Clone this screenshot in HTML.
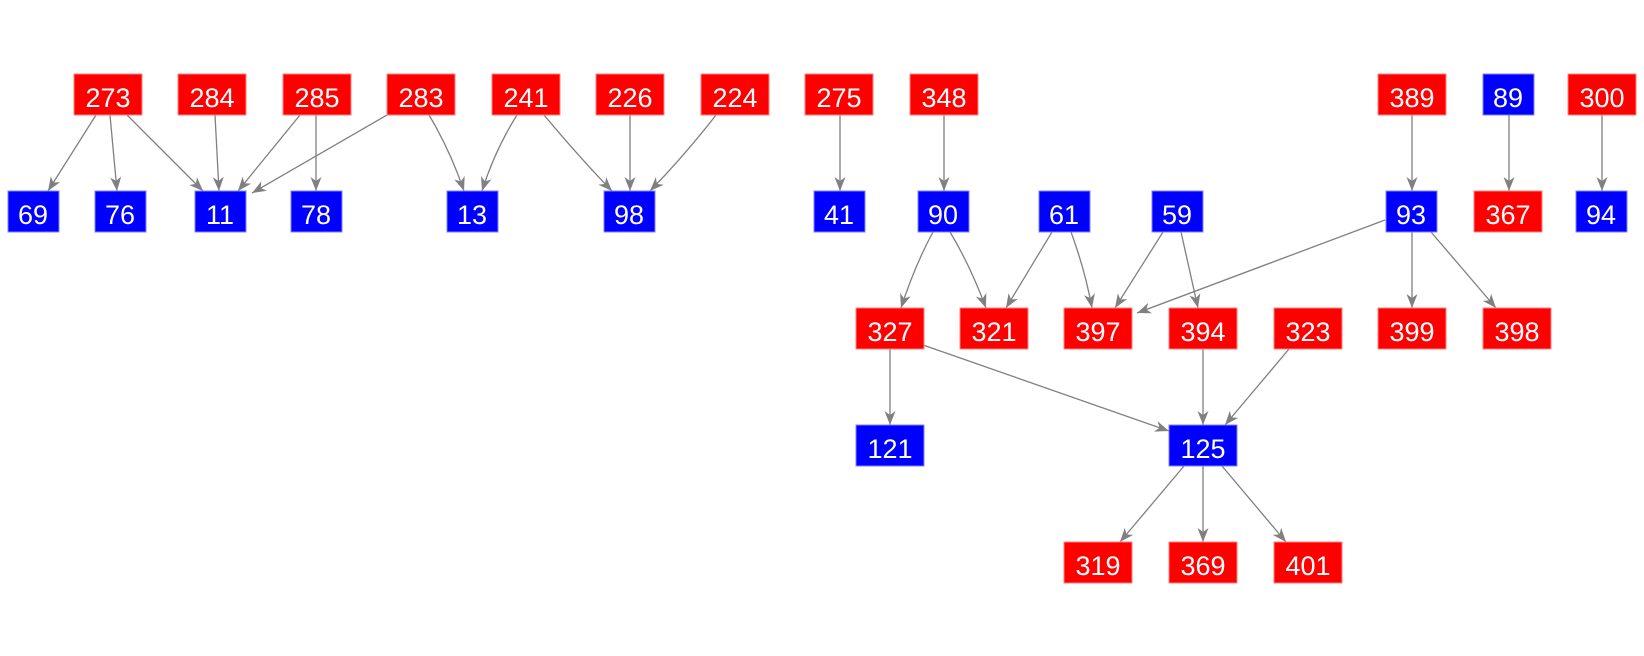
<!DOCTYPE html>
<html><head><meta charset="utf-8"><style>
html,body{margin:0;padding:0;background:#fff;}
svg{display:block;}
text{font-family:"Liberation Sans",Arial,sans-serif;font-size:27px;fill:#fff;text-anchor:middle;}
.r{fill:#ff0000;stroke:#ff8080;stroke-width:1;}
.b{fill:#0000ff;stroke:#8080ff;stroke-width:1;}
line,path.e{stroke:#808080;stroke-width:1.3;fill:none;marker-end:url(#a);}
</style></head><body>
<svg width="1644" height="656" viewBox="0 0 1644 656" xmlns="http://www.w3.org/2000/svg">
<defs><marker id="a" markerWidth="16" markerHeight="12" refX="14" refY="5.5" orient="auto" markerUnits="userSpaceOnUse">
<path d="M0,0 L14,5.5 L0,11 L4,5.5 Z" fill="#808080"/></marker></defs>
<line x1="96" y1="115" x2="48" y2="191"/>
<line x1="110" y1="115" x2="117" y2="191"/>
<line x1="127" y1="115" x2="203" y2="191"/>
<line x1="215" y1="115" x2="219" y2="191"/>
<line x1="300" y1="115" x2="238" y2="191"/>
<line x1="316" y1="115" x2="316" y2="191"/>
<line x1="387" y1="115" x2="252" y2="193"/>
<path class="e" d="M429,115 Q450,150 464,191"/>
<path class="e" d="M517,115 Q495,150 482,191"/>
<path class="e" d="M544,115 Q580,158 612,191"/>
<line x1="630" y1="115" x2="630" y2="191"/>
<path class="e" d="M716,115 Q685,155 650,191"/>
<line x1="840" y1="115" x2="840" y2="191"/>
<line x1="944" y1="115" x2="944" y2="191"/>
<line x1="1412" y1="115" x2="1412" y2="191"/>
<line x1="1509" y1="115" x2="1509" y2="191"/>
<line x1="1602" y1="115" x2="1602" y2="191"/>
<path class="e" d="M933,232 Q915,265 901,308"/>
<path class="e" d="M950,232 Q970,265 986,308"/>
<line x1="1052" y1="232" x2="1006" y2="308"/>
<path class="e" d="M1071,232 Q1085,270 1092,308"/>
<line x1="1163" y1="232" x2="1115" y2="308"/>
<line x1="1181" y1="232" x2="1198" y2="308"/>
<line x1="1385" y1="220" x2="1137" y2="313"/>
<line x1="1412" y1="232" x2="1412" y2="308"/>
<line x1="1431" y1="232" x2="1496" y2="308"/>
<line x1="1203" y1="349" x2="1203" y2="425"/>
<line x1="1289" y1="349" x2="1225" y2="425"/>
<line x1="923" y1="345" x2="1169" y2="431"/>
<line x1="890" y1="349" x2="890" y2="425"/>
<line x1="1184" y1="466" x2="1120" y2="542"/>
<line x1="1203" y1="466" x2="1203" y2="542"/>
<line x1="1222" y1="466" x2="1286" y2="542"/>
<rect class="r" x="74" y="74" width="68" height="41"/><text x="108" y="107">273</text>
<rect class="r" x="178" y="74" width="68" height="41"/><text x="212" y="107">284</text>
<rect class="r" x="283" y="74" width="68" height="41"/><text x="317" y="107">285</text>
<rect class="r" x="387" y="74" width="68" height="41"/><text x="421" y="107">283</text>
<rect class="r" x="492" y="74" width="68" height="41"/><text x="526" y="107">241</text>
<rect class="r" x="596" y="74" width="68" height="41"/><text x="630" y="107">226</text>
<rect class="r" x="701" y="74" width="68" height="41"/><text x="735" y="107">224</text>
<rect class="r" x="805" y="74" width="68" height="41"/><text x="839" y="107">275</text>
<rect class="r" x="910" y="74" width="68" height="41"/><text x="944" y="107">348</text>
<rect class="r" x="1378" y="74" width="68" height="41"/><text x="1412" y="107">389</text>
<rect class="b" x="1483" y="74" width="51" height="41"/><text x="1508" y="107">89</text>
<rect class="r" x="1568" y="74" width="68" height="41"/><text x="1602" y="107">300</text>
<rect class="b" x="8" y="191" width="51" height="41"/><text x="33" y="224">69</text>
<rect class="b" x="95" y="191" width="51" height="41"/><text x="120" y="224">76</text>
<rect class="b" x="195" y="191" width="51" height="41"/><text x="220" y="224">11</text>
<rect class="b" x="291" y="191" width="51" height="41"/><text x="316" y="224">78</text>
<rect class="b" x="447" y="191" width="51" height="41"/><text x="472" y="224">13</text>
<rect class="b" x="604" y="191" width="51" height="41"/><text x="629" y="224">98</text>
<rect class="b" x="814" y="191" width="51" height="41"/><text x="839" y="224">41</text>
<rect class="b" x="918" y="191" width="51" height="41"/><text x="943" y="224">90</text>
<rect class="b" x="1039" y="191" width="51" height="41"/><text x="1064" y="224">61</text>
<rect class="b" x="1152" y="191" width="51" height="41"/><text x="1177" y="224">59</text>
<rect class="b" x="1386" y="191" width="51" height="41"/><text x="1411" y="224">93</text>
<rect class="r" x="1474" y="191" width="68" height="41"/><text x="1508" y="224">367</text>
<rect class="b" x="1576" y="191" width="51" height="41"/><text x="1601" y="224">94</text>
<rect class="r" x="856" y="308" width="68" height="41"/><text x="890" y="341">327</text>
<rect class="r" x="960" y="308" width="68" height="41"/><text x="994" y="341">321</text>
<rect class="r" x="1064" y="308" width="68" height="41"/><text x="1098" y="341">397</text>
<rect class="r" x="1169" y="308" width="68" height="41"/><text x="1203" y="341">394</text>
<rect class="r" x="1274" y="308" width="68" height="41"/><text x="1308" y="341">323</text>
<rect class="r" x="1378" y="308" width="68" height="41"/><text x="1412" y="341">399</text>
<rect class="r" x="1483" y="308" width="68" height="41"/><text x="1517" y="341">398</text>
<rect class="b" x="856" y="425" width="68" height="41"/><text x="890" y="458">121</text>
<rect class="b" x="1169" y="425" width="68" height="41"/><text x="1203" y="458">125</text>
<rect class="r" x="1064" y="542" width="68" height="41"/><text x="1098" y="575">319</text>
<rect class="r" x="1169" y="542" width="68" height="41"/><text x="1203" y="575">369</text>
<rect class="r" x="1274" y="542" width="68" height="41"/><text x="1308" y="575">401</text>
</svg>
</body></html>
